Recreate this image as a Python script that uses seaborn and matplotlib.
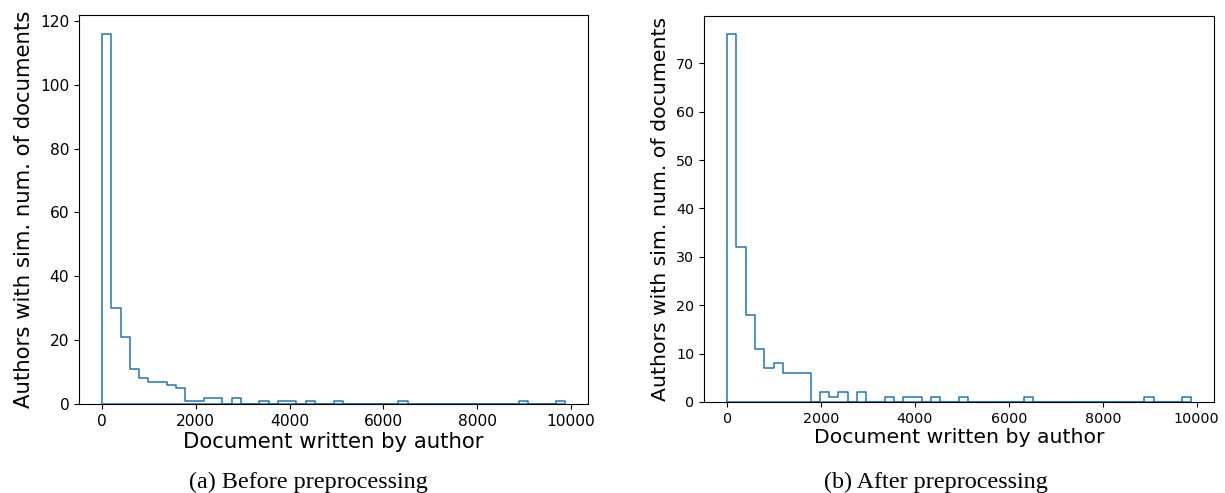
import pandas as pd
import seaborn as sns
import matplotlib
matplotlib.use("Agg")
import matplotlib.pyplot as plt

# histogram bins (50 bins, ~197.5 docs wide, starting at 0)
bin_width = 197.5
n_bins = 50

before_counts = [116, 30, 21, 11, 8, 7, 7, 6, 5, 1,
                 1, 2, 2, 0, 2, 0, 0, 1, 0, 1,
                 1, 0, 1, 0, 0, 1, 0, 0, 0, 0,
                 0, 0, 1, 0, 0, 0, 0, 0, 0, 0,
                 0, 0, 0, 0, 0, 1, 0, 0, 0, 1]
after_counts = [76, 32, 18, 11, 7, 8, 6, 6, 6, 0,
                2, 1, 2, 0, 2, 0, 0, 1, 0, 1,
                1, 0, 1, 0, 0, 1, 0, 0, 0, 0,
                0, 0, 1, 0, 0, 0, 0, 0, 0, 0,
                0, 0, 0, 0, 0, 1, 0, 0, 0, 1]

x_ticks = [0, 2000, 4000, 6000, 8000, 10000]
yticks_before = [0, 20, 40, 60, 80, 100, 120]
yticks_after = [0, 10, 20, 30, 40, 50, 60, 70]
captions = ["(a) Before preprocessing", "(b) After preprocessing"]

edges = [i * bin_width for i in range(n_bins + 1)]
centers = [e + bin_width / 2 for e in edges[:-1]]

sns.set_style("ticks")
plt.rcParams['font.family'] = ['DejaVu Sans']
plt.rcParams['text.color'] = 'black'
plt.rcParams['axes.labelcolor'] = 'black'
plt.rcParams['xtick.color'] = 'black'
plt.rcParams['ytick.color'] = 'black'

fig = plt.figure(figsize=(12.25, 4.93), dpi=100)
ax1 = fig.add_axes([0.0645, 0.1805, 0.4155, 0.789])
ax2 = fig.add_axes([0.5747, 0.1846, 0.4163, 0.783])

# (axis, counts, yticks, tick font size, label font size)
panels = [
    (ax1, before_counts, yticks_before, 11.2, 15.3),
    (ax2, after_counts, yticks_after, 10.3, 14.7),
]

for ax, counts, yticks, tsize, lsize in panels:
    df = pd.DataFrame({'docs': centers, 'n': counts})
    sns.histplot(data=df, x='docs', weights='n', bins=edges, element='step',
                 fill=True, color='#1f77b4', facecolor='none',
                 edgecolor='#1f77b4', linewidth=1.1, ax=ax)
    top = max(counts) * 1.05
    span = edges[-1] - edges[0]
    ax.set_xlim(edges[0] - 0.05 * span, edges[-1] + 0.05 * span)
    ax.set_ylim(0, top)
    ax.set_xticks(x_ticks)
    ax.set_yticks(yticks)
    ax.tick_params(labelsize=tsize, length=3.5, width=0.8)
    for s in ax.spines.values():
        s.set_visible(True)
        s.set_linewidth(0.8)
        s.set_color('black')
    ax.set_xlabel('Document written by author', fontsize=lsize, labelpad=2)
    ax.set_ylabel('Authors with sim. num. of documents', fontsize=lsize, labelpad=4)

fig.text(0.252, 0.0223, captions[0], ha='center', va='center',
         fontsize=17.4, family=['Liberation Serif'])
fig.text(0.764, 0.0223, captions[1], ha='center', va='center',
         fontsize=17.4, family=['Liberation Serif'])

fig.savefig('out.png', dpi=100)
